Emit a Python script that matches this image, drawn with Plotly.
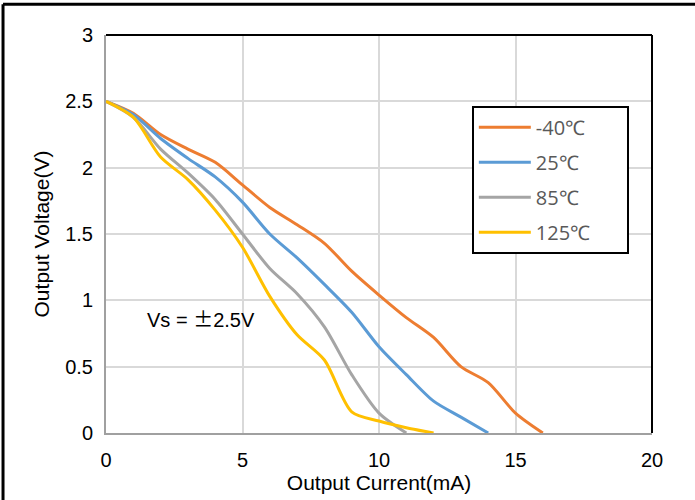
import plotly.graph_objects as go

# Data
x_m40 = [0, 1, 2, 3, 4, 5, 6, 7, 8, 9, 10, 11, 12, 13, 14, 15, 16]
y_m40 = [2.5, 2.41, 2.25, 2.14, 2.04, 1.87, 1.70, 1.57, 1.43, 1.22, 1.04, 0.87, 0.72, 0.50, 0.38, 0.15, 0.0]

x_25 = [0, 1, 2, 3, 4, 5, 6, 7, 8, 9, 10, 11, 12, 13, 14]
y_25 = [2.5, 2.40, 2.22, 2.07, 1.93, 1.74, 1.50, 1.32, 1.12, 0.91, 0.65, 0.44, 0.24, 0.12, 0.0]

x_85 = [0, 1, 2, 3, 4, 5, 6, 7, 8, 9, 10, 11]
y_85 = [2.5, 2.38, 2.14, 1.96, 1.76, 1.50, 1.24, 1.05, 0.80, 0.44, 0.15, 0.0]

x_125 = [0, 1, 2, 3, 4, 5, 6, 7, 8, 9, 10, 11, 12]
y_125 = [2.5, 2.38, 2.08, 1.91, 1.68, 1.40, 1.03, 0.74, 0.55, 0.16, 0.09, 0.04, 0.0]

names = ["-40℃", "25℃", "85℃", "125℃"]
colors = ["#ED7D31", "#5B9BD5", "#A5A5A5", "#FFC000"]

x_ticks = [0, 5, 10, 15, 20]
y_ticks = [0, 0.5, 1, 1.5, 2, 2.5, 3]
y_tick_text = ["0", "0.5", "1", "1.5", "2", "2.5", "3"]

fig = go.Figure()
for xs, ys, nm, c in zip([x_m40, x_25, x_85, x_125], [y_m40, y_25, y_85, y_125], names, colors):
    fig.add_trace(go.Scatter(x=xs, y=ys, name=nm + "\u00a0" * 6, mode="lines", legendgroup=nm,
                             line=dict(color=c, width=3, shape="spline", smoothing=0.8)))

fig.update_layout(
    width=695, height=500,
    margin=dict(l=106, r=43, t=35, b=65),
    paper_bgcolor="white", plot_bgcolor="white",
    font=dict(family="Liberation Sans, Arial, sans-serif", size=20, color="#000000"),
    showlegend=True,
    legend=dict(x=0.67, y=0.8225, xanchor="left", yanchor="top",
                bordercolor="#000000", borderwidth=2, bgcolor="white",
                font=dict(family="Open Sans, sans-serif", size=20, color="#595959"),
                tracegroupgap=6, itemwidth=52),
    xaxis=dict(range=[0, 20], tickvals=x_ticks, ticktext=[str(v) for v in x_ticks],
               showgrid=True, gridcolor="#D9D9D9", gridwidth=1.5,
               showline=True, linecolor="#A0A0A0", linewidth=2, zeroline=False,
               ticks="", ticklabelstandoff=8,
               title=dict(text="Output Current(mA)", standoff=2, font=dict(size=21))),
    yaxis=dict(range=[0, 3], tickvals=y_ticks, ticktext=y_tick_text,
               showgrid=True, gridcolor="#D9D9D9", gridwidth=1.5,
               showline=True, linecolor="#A0A0A0", linewidth=2, zeroline=False,
               ticks="", ticklabelstandoff=7,
               title=dict(text="Output Voltage(V)", standoff=10, font=dict(size=21))),
    shapes=[
        dict(type="line", xref="paper", yref="paper", x0=0, x1=1, y0=1, y1=1,
             line=dict(color="black", width=2)),
        dict(type="line", xref="paper", yref="paper", x0=1, x1=1, y0=0, y1=1,
             line=dict(color="black", width=2)),
        dict(type="line", xref="paper", yref="paper", x0=-0.1886, x1=1.2, y0=1.0775, y1=1.0775,
             line=dict(color="black", width=3)),
        dict(type="line", xref="paper", yref="paper", x0=-0.1886, x1=-0.1886, y0=-0.3, y1=1.0775,
             line=dict(color="black", width=3)),
    ],
    annotations=[
        dict(text="Vs = <span style='font-family:Noto Sans CJK SC'>±</span>2.5V",
             x=1.43, y=0.86, xref="x", yref="y", xanchor="left",
             yanchor="middle", showarrow=False, font=dict(size=20, color="#000000")),
    ],
)

fig.write_html("out.html", config={"displayModeBar": False},
               post_script="document.body.style.margin='0px';")
